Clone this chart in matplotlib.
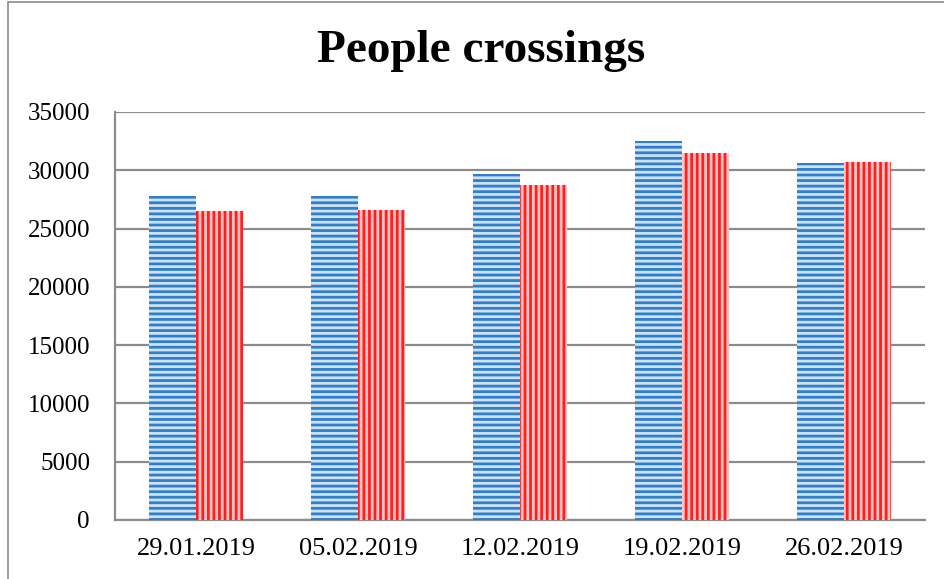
import matplotlib
matplotlib.use("Agg")
import matplotlib.pyplot as plt
import numpy as np
from matplotlib.patches import Rectangle

dates = ["29.01.2019", "05.02.2019", "12.02.2019", "19.02.2019", "26.02.2019"]
series_blue = [27800, 27800, 29700, 32500, 30650]
series_red = [26500, 26600, 28700, 31450, 30700]
y_ticks = [0, 5000, 10000, 15000, 20000, 25000, 30000, 35000]

plt.rcParams['font.family'] = ['Liberation Serif', 'DejaVu Serif']
plt.rcParams['hatch.linewidth'] = 2.0

W, H = 944, 579
fig = plt.figure(figsize=(W / 100, H / 100), dpi=100)
ax = fig.add_axes([115 / W, 1 - 520 / H, (925 - 115) / W, (520 - 112) / H])

x = np.arange(len(dates))
width = 0.29
ax.bar(x - width / 2, series_blue, width, facecolor="#cfe2f3", edgecolor="#2f7fcb",
       linewidth=0, hatch="---", zorder=3)
ax.bar(x + width / 2, series_red, width, facecolor="#ffc4c4", edgecolor="#ff1f1f",
       linewidth=0, hatch="|||", zorder=3)

ax.set_xlim(-0.5, len(dates) - 0.5)
ax.set_ylim(0, 35000)
ax.set_yticks(y_ticks)
ax.set_xticks(x)
ax.set_xticklabels(dates)
ax.tick_params(axis="both", length=0, colors="black")
ax.tick_params(axis="y", pad=18, labelsize=18)
ax.tick_params(axis="x", pad=13, labelsize=19)
ax.grid(axis="y", color="#8c8c8c", linewidth=1.6, zorder=0)
ax.set_axisbelow(True)
for side in ["top", "right"]:
    ax.spines[side].set_visible(False)
for side in ["left", "bottom"]:
    ax.spines[side].set_color("#8c8c8c")
    ax.spines[side].set_linewidth(1.6)

fig.text(481 / W, 1 - 62 / H, "People crossings", ha="center", va="baseline",
         fontsize=34, fontweight="bold")

# outer chart border (runs off the right and bottom edge)
fig.patches.append(Rectangle((8 / W, -0.1), 1.2, 1.1 - 2 / H, transform=fig.transFigure,
                             fill=False, edgecolor="#8c8c8c", linewidth=1.2))

fig.savefig("out.png", dpi=100)
